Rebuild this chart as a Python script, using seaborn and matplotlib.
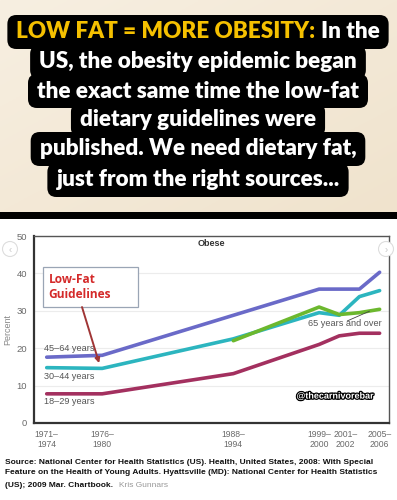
import numpy as np
import pandas as pd
import matplotlib
matplotlib.use('Agg')
import matplotlib.pyplot as plt
import matplotlib.patches as mpatches
import matplotlib.patheffects as pe
import matplotlib.transforms as mtransforms
from matplotlib import font_manager
import seaborn as sns

# chart data (percent obese, by survey period)
tick_periods = ['1971–\n1974', '1976–\n1980', '1988–\n1994', '1999–\n2000', '2001–\n2002', '2005–\n2006']
tick_years = [1972.5, 1978, 1991, 1999.5, 2001.5, 2005.5]
years = [1972.5, 1978, 1991, 1999.5, 2001.5, 2003.5, 2005.5]
age_45_64 = [17.6, 18.1, 28.8, 35.8, 35.8, 35.8, 40.3]
age_30_44 = [14.8, 14.6, 22.5, 29.5, 28.8, 33.8, 35.4]
age_18_29 = [7.8, 7.8, 13.2, 21.0, 23.3, 24.0, 24.0]
age_65_up = [np.nan, np.nan, 22.0, 31.0, 29.0, 29.5, 30.4]

groups = ['18–29 years', '30–44 years', '45–64 years', '65 years and over']
colors = ['#a3305f', '#2cb5bf', '#6a6ac8', '#6cb82e']

header_lines = ['LOW FAT = MORE OBESITY: In the',
                'US, the obesity epidemic began',
                'the exact same time the low-fat',
                'dietary guidelines were',
                'published. We need dietary fat,',
                'just from the right sources...']
source_lines = ['Source: National Center for Health Statistics (US). Health, United States, 2008: With Special',
                'Feature on the Health of Young Adults. Hyattsville (MD): National Center for Health Statistics',
                '(US); 2009 Mar. Chartbook.']

df = pd.DataFrame({
    'year': years * 4,
    'value': age_18_29 + age_30_44 + age_45_64 + age_65_up,
    'group': [g for g in groups for _ in years],
})

sns.set_style('white')
names = {f.name for f in font_manager.fontManager.ttflist}
head_font = 'Lato' if 'Lato' in names else 'DejaVu Sans'
src_font = 'Liberation Sans Narrow' if 'Liberation Sans Narrow' in names else 'Liberation Sans'
plt.rcParams['font.family'] = ['Liberation Sans', 'DejaVu Sans']

fig = plt.figure(figsize=(3.97, 5), dpi=100)
fig.patch.set_facecolor('white')
renderer = fig.canvas.get_renderer()

# ---------- header ----------
hdr = fig.add_axes([0, 1 - 212 / 500, 1, 212 / 500])
hdr.set_xlim(0, 397)
hdr.set_ylim(212, 0)
hdr.axis('off')
gx, gy = np.meshgrid(np.linspace(0, 1, 200), np.linspace(0, 1, 120))
grad = 0.5 * gx + 0.5 * gy
beige = np.zeros((120, 200, 3))
c1 = np.array([247, 239, 225]) / 255
c2 = np.array([240, 227, 205]) / 255
for k in range(3):
    beige[..., k] = c1[k] + (c2[k] - c1[k]) * grad
hdr.imshow(beige, extent=(0, 397, 212, 0), aspect='auto', zorder=0)

head_weight = 'heavy'


def text_width(s, size):
    t = hdr.text(0, 0, s, fontsize=size, fontweight=head_weight, family=head_font)
    w = t.get_window_extent(renderer).width
    t.remove()
    return w


fs = 15 * 364 / text_width(header_lines[0], 15)
header_y = [32, 62, 91, 120, 149, 180]
cx = 198

# black rounded strips behind each line
for line, y in zip(header_lines, header_y):
    w = text_width(line, fs)
    hdr.add_patch(mpatches.FancyBboxPatch((cx - w / 2 - 9, y - 17), w + 18, 34,
                                          boxstyle='round,pad=0,rounding_size=9',
                                          fc='black', ec='none', zorder=2))

# first line: yellow + white
w_full = text_width(header_lines[0], fs)
x_start = cx - w_full / 2
hdr.text(x_start, header_y[0], 'LOW FAT = MORE OBESITY:', ha='left', va='center', fontsize=fs,
         color='#f5c000', fontweight=head_weight, family=head_font, zorder=3)
hdr.text(x_start + w_full, header_y[0], 'In the', ha='right', va='center', fontsize=fs,
         color='white', fontweight=head_weight, family=head_font, zorder=3)
for line, y in zip(header_lines[1:], header_y[1:]):
    hdr.text(cx, y, line, ha='center', va='center', fontsize=fs, color='white',
             fontweight=head_weight, family=head_font, zorder=3)

# black separator bar
fig.patches.append(mpatches.Rectangle((0, 1 - 219 / 500), 1, 7 / 500, transform=fig.transFigure,
                                      fc='black', ec='none', zorder=5))

# ---------- chart ----------
ax = fig.add_axes([34 / 397, 77 / 500, 355 / 397, 187 / 500])
sns.lineplot(data=df, x='year', y='value', hue='group', hue_order=groups,
             palette=dict(zip(groups, colors)), linewidth=2.6, legend=False, ax=ax)
ax.set_xlim(1971.24, 2006.43)
ax.set_ylim(0, 50)
ax.set_xticks(tick_years, tick_periods)
ax.set_yticks([0, 10, 20, 30, 40, 50])
ax.tick_params(axis='both', labelcolor='#6a6a6a', color='#333333',
               length=3, width=1.2, pad=2, direction='out')
ax.tick_params(axis='y', labelsize=6.8)
ax.tick_params(axis='x', labelsize=6.2)
plt.setp(ax.get_xticklabels(), linespacing=1.2)
# the 2001-2002 label sits a little right of its tick in the original
lab = ax.get_xticklabels()[4]
lab.set_transform(lab.get_transform() + mtransforms.ScaledTranslation(6 / 100, 0, fig.dpi_scale_trans))
ax.set_xlabel('')
ax.set_ylabel('Percent', fontsize=6.5, color='#888888', labelpad=3)
ax.grid(axis='y', color='#ececec', linewidth=0.8)
ax.set_axisbelow(True)
for side in ['left', 'bottom']:
    ax.spines[side].set_color('#333333')
    ax.spines[side].set_linewidth(1.6)
for side in ['top', 'right']:
    ax.spines[side].set_color('#555555')
    ax.spines[side].set_linewidth(1.0)

ax.text(0.5, 0.962, 'Obese', transform=ax.transAxes, ha='center', va='center',
        fontsize=6.5, fontweight='bold', color='#333333')

label_style = dict(fontsize=6.6, color='#555555', va='center', ha='left')
ax.text(1972.2, 20.0, '45–64 years', **label_style)
ax.text(1972.2, 12.3, '30–44 years', **label_style)
ax.text(1972.2, 5.7, '18–29 years', **label_style)
ax.text(1998.4, 26.7, '65 years and over', **label_style)
ax.plot([2002.3, 2004.5], [27.3, 29.9], color='#444444', linewidth=0.6)

# low-fat guideline callout
ax.add_patch(mpatches.Rectangle((0.025, 0.62), 0.268, 0.214, transform=ax.transAxes,
                                fc='white', ec='#9aa5b5', lw=0.9, zorder=4))
ax.text(0.041, 0.727, 'Low-Fat\nGuidelines', transform=ax.transAxes, ha='left', va='center',
        fontsize=8.6, fontweight='bold', color='#d42a2a', family='Open Sans',
        linespacing=1.15, zorder=5)
ax.annotate('', xy=(1977.7, 16.0), xytext=(1976.0, 31.0),
            arrowprops=dict(arrowstyle='-|>', color='#a03535', lw=1.4,
                            mutation_scale=7, shrinkA=0, shrinkB=0), zorder=5)

ax.text(0.848, 0.144, '@thecarnivorebar', transform=ax.transAxes, ha='center', va='center',
        color='white', fontsize=6.5, fontweight='bold',
        path_effects=[pe.withStroke(linewidth=1.8, foreground='black')], zorder=6)

# carousel icons
for px, sym in [(10, '‹'), (386, '›')]:
    fig.patches.append(mpatches.Ellipse((px / 397, 1 - 249 / 500), 15 / 397, 15 / 500,
                                        transform=fig.transFigure, fc='white', ec='#dddddd',
                                        lw=0.8, zorder=6))
    fig.text(px / 397, 1 - 250 / 500, sym, ha='center', va='center', fontsize=7,
             color='#c8c8c8', zorder=7)

# ---------- source ----------
src_y = [462, 473, 485.5]
src_texts = []
for line, y in zip(source_lines, src_y):
    st = fig.text(5 / 397, 1 - y / 500, line, ha='left', va='center', fontsize=6,
                  fontweight='bold', color='#111111', family=src_font)
    src_texts.append(st)
w = src_texts[1].get_window_extent(renderer).width
scale = 372 / w
for st in src_texts:
    st.set_fontsize(st.get_fontsize() * scale)
end3 = src_texts[2].get_window_extent(renderer).x1
fig.text((end3 + 6) / 397, 1 - src_y[2] / 500, 'Kris Gunnars', ha='left', va='center',
         fontsize=src_texts[0].get_fontsize(), color='#999999', family=src_font)

fig.savefig('out.png', dpi=100)
